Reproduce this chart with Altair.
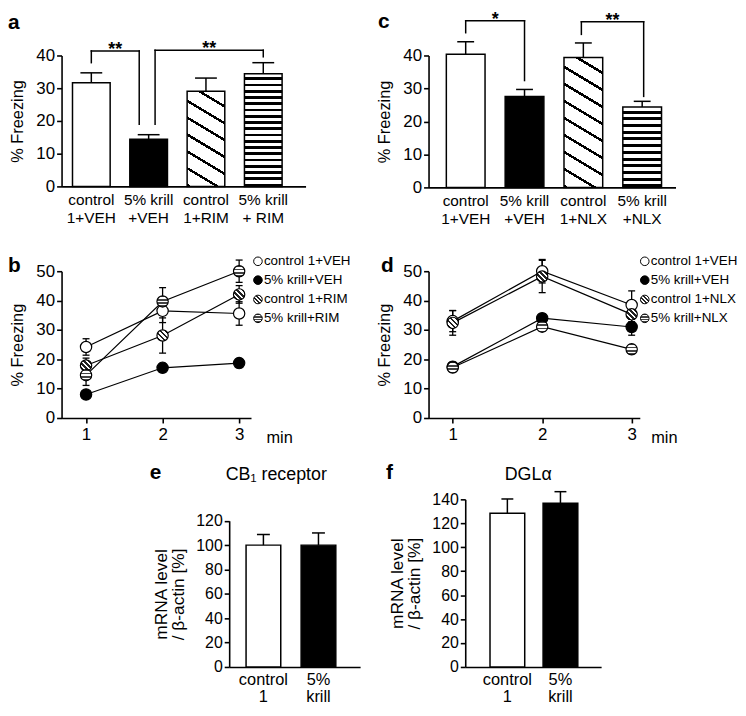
import altair as alt
import pandas as pd

FONT = "Liberation Sans"

# ---------------- data ----------------
# panel a
a_groups = ["control\n1+VEH", "5% krill\n+VEH", "control\n1+RIM", "5% krill\n+ RIM"]
a_mean = [31.7, 14.4, 29.1, 34.4]
a_sem = [3.0, 1.4, 4.0, 3.4]
a_sig_from = [0, 1]
a_sig_to = [1, 3]
a_sig_left = [37.8, 19.0]
a_sig_right = [19.0, 39.6]
a_sig_top = [41.4, 41.6]
a_sig_label = ["**", "**"]

# panel c
c_groups = ["control\n1+VEH", "5% krill\n+VEH", "control\n1+NLX", "5% krill\n+NLX"]
c_mean = [40.4, 27.6, 39.4, 24.4]
c_sem = [3.8, 2.1, 4.4, 1.7]
c_sig_from = [0, 2]
c_sig_to = [1, 3]
c_sig_left = [46.9, 46.4]
c_sig_right = [32.4, 27.6]
c_sig_top = [50.5, 50.2]
c_sig_label = ["*", "**"]

# panels b and d (time course)
minutes = [1, 2, 3]
b_names = ["control 1+VEH", "5% krill+VEH", "control 1+RIM", "5% krill+RIM"]
b_ctrl_veh = [24.2, 36.5, 35.6]
b_ctrl_veh_err = [2.8, 4.0, 4.0]
b_krill_veh = [8.0, 17.1, 18.7]
b_krill_veh_err = [1.2, 1.5, 1.5]
b_ctrl_rim = [17.9, 28.1, 42.1]
b_ctrl_rim_err = [2.5, 6.0, 3.0]
b_krill_rim = [14.6, 39.7, 50.0]
b_krill_rim_err = [3.5, 4.7, 3.8]

d_names = ["control 1+VEH", "5% krill+VEH", "control 1+NLX", "5% krill+NLX"]
d_ctrl_veh = [33.0, 50.0, 38.5]
d_ctrl_veh_err = [3.6, 4.0, 4.8]
d_krill_veh = [17.5, 34.0, 31.0]
d_krill_veh_err = [1.5, 1.5, 2.8]
d_ctrl_nlx = [32.4, 48.2, 35.3]
d_ctrl_nlx_err = [4.2, 5.5, 2.5]
d_krill_nlx = [17.2, 31.1, 23.4]
d_krill_nlx_err = [1.5, 1.5, 1.5]

# panels e and f
ef_groups = ["control\n1", "5%\nkrill"]
e_mean = [100.0, 100.0]
e_sem = [8.7, 10.0]
f_mean = [128.4, 136.7]
f_sem = [11.9, 9.7]


# ---------------- style helpers ----------------
def stripe_stops(n, dark_frac, dark, light):
    stops = []
    for k in range(n):
        a = k / n
        m = (k + 1 - dark_frac) / n
        b = (k + 1) / n
        stops += [
            {"offset": round(a, 4), "color": light},
            {"offset": round(m, 4), "color": light},
            {"offset": round(m, 4), "color": dark},
            {"offset": round(b, 4), "color": dark},
        ]
    return stops


def horizontal_stripes(h_px, spacing, dark_frac, dark="black", light="white"):
    n = max(1, int(round(h_px / spacing)))
    return {"gradient": "linear", "x1": 0, "y1": 0, "x2": 0, "y2": 1,
            "stops": stripe_stops(n, dark_frac, dark, light)}


def diagonal_stripes(w_px, h_px, slope, vspacing, dark_frac, dark="black", light="white"):
    dx = -slope * w_px / h_px
    k = (1 - dx) / (1 + dx * dx)
    n = max(1, int(round((h_px + slope * w_px) / vspacing)))
    return {"gradient": "linear", "x1": 1, "y1": 0,
            "x2": round(1 + dx * k, 4), "y2": round(k, 4),
            "stops": stripe_stops(n, dark_frac, dark, light)}


def band_gradient(colors, x1, y1, x2, y2):
    n = len(colors)
    stops = []
    for k, col in enumerate(colors):
        stops += [{"offset": round(k / n, 4), "color": col},
                  {"offset": round((k + 1) / n, 4), "color": col}]
    return {"gradient": "linear", "x1": x1, "y1": y1, "x2": x2, "y2": y2, "stops": stops}


def marker_fill(style):
    if style == "open":
        return "white"
    if style == "filled":
        return "black"
    if style == "diag":
        return band_gradient(["#fff", "#222", "#fff", "#222", "#fff", "#222", "#fff", "#222", "#fff"], 1, 0, 0, 1)
    return band_gradient(["#444", "#fff", "#444", "#fff", "#444", "#fff", "#444"], 0, 0, 0, 1)


def text_layer(txt, x, y, size, weight="normal", align="left", baseline="alphabetic"):
    return alt.Chart(pd.DataFrame({"t": [txt]})).mark_text(
        align=align, baseline=baseline, fontSize=size, fontWeight=weight, font=FONT, color="black"
    ).encode(text="t:N", x=alt.value(x), y=alt.value(y))


# ---------------- bar panels ----------------
def bar_panel(groups, means, sems, styles, width, height, ymax, yticks, pi, po, al, cap_px,
              sig, sig_offsets, letter, letter_pos, ytitle, yrange=None, tick_font=17,
              xlab_font=15.5, xlab_lh=18, title_font=16.5, title_lh=18, title_pad=10, xlab_pad=6,
              head=None, head_pos=None):
    n = len(groups)
    step = width / (n - pi + 2 * po)
    bw = step * (1 - pi)
    y_lo, y_hi = yrange if yrange else (height, 0)
    ppu = (y_lo - y_hi) / ymax
    df = pd.DataFrame({"idx": list(range(n)), "grp": groups, "mean": means, "sem": sems})
    xs = alt.Scale(domain=groups, paddingInner=pi, paddingOuter=po, align=al)
    xax = alt.Axis(title=None, labelExpr="split(datum.label, '\\n')", labelAngle=0, ticks=False,
                   tickSize=0, labelPadding=xlab_pad, labelFontSize=xlab_font, labelLineHeight=xlab_lh)
    if yrange:
        ys = alt.Scale(domain=[0, ymax], nice=False, range=list(yrange))
    else:
        ys = alt.Scale(domain=[0, ymax], nice=False)
    yax = alt.Axis(values=yticks, title=ytitle, titleFontSize=title_font, titleLineHeight=title_lh,
                   titlePadding=title_pad, labelFontSize=tick_font, labelPadding=2, tickSize=5)

    def X(f):
        return alt.X(f, type="nominal", scale=xs, axis=xax)

    def Y(f):
        return alt.Y(f, type="quantitative", scale=ys, axis=yax)

    def fill_for(style, mean):
        h = mean * ppu
        if style[0] == "solid":
            return style[1]
        if style[0] == "diag":
            return diagonal_stripes(bw, h, 0.6, style[1], 0.17)
        return horizontal_stripes(h, style[1], 0.45)

    layers = []
    for i in range(n):
        layers.append(
            alt.Chart(df).transform_filter(alt.datum.idx == i)
            .mark_bar(fill=fill_for(styles[i], means[i]), stroke="black", strokeWidth=1.5, opacity=1)
            .encode(x=X("grp"), y=Y("mean"))
        )
    err = alt.Chart(df).transform_calculate(top="datum.mean + datum.sem")
    layers.append(err.mark_rule(color="black", strokeWidth=1.5).encode(x=X("grp"), y=Y("mean"), y2=alt.Y2("top")))
    layers.append(err.mark_tick(color="black", thickness=1.5, size=cap_px, opacity=1).encode(x=X("grp"), y=Y("top")))

    for k in range(len(sig["from"])):
        ol, orr = sig_offsets[k]
        i0, i1 = sig["from"][k], sig["to"][k]
        sd = pd.DataFrame([{"frm": groups[i0], "to": groups[i1], "yl": sig["left"][k],
                            "yr": sig["right"][k], "top": sig["top"][k], "lab": sig["label"][k]}])
        c = alt.Chart(sd)
        layers.append(c.mark_rule(color="black", strokeWidth=1.5, xOffset=ol, strokeCap="square")
                      .encode(x=X("frm"), y=Y("yl"), y2=alt.Y2("top")))
        layers.append(c.mark_rule(color="black", strokeWidth=1.5, xOffset=orr, strokeCap="square")
                      .encode(x=X("to"), y=Y("yr"), y2=alt.Y2("top")))
        layers.append(c.mark_rule(color="black", strokeWidth=1.5, xOffset=ol, x2Offset=orr, strokeCap="square")
                      .encode(x=X("frm"), x2=alt.X2("to"), y=Y("top")))
        mid = (step * (i1 - i0) + ol + orr) / 2
        layers.append(c.mark_text(xOffset=mid, dy=4, align="center", baseline="alphabetic", fontSize=18,
                                  fontWeight="bold", font=FONT, color="black")
                      .encode(x=X("frm"), y=Y("top"), text="lab:N"))

    layers.append(text_layer(letter, letter_pos[0], letter_pos[1], 21, weight="bold"))
    if head:
        layers.append(text_layer(head, head_pos[0], head_pos[1], 18, align="center", baseline="middle"))
    return alt.layer(*layers).properties(width=width, height=height)


# ---------------- line panels ----------------
def line_panel(names, means, errs, styles, xdom, width, height, sym_x, txt_x, leg_ys, min_x,
               letter, letter_pos, legend_font=13.5):
    rows = []
    for s in range(len(names)):
        for t, mv, ev in zip(minutes, means[s], errs[s]):
            rows.append({"s": s, "series": names[s], "minute": t, "mean": mv, "err": ev})
    df = pd.DataFrame(rows)
    xs = alt.Scale(domain=xdom, nice=False, zero=False)
    xax = alt.Axis(values=minutes, format="d", title="min", titleX=min_x, titleY=19.5, titleAlign="left",
                   titleBaseline="middle", titleFontSize=16.5, tickSize=5, labelPadding=4, labelFontSize=17)
    ys = alt.Scale(domain=[0, 50], nice=False)
    yax = alt.Axis(values=[0, 10, 20, 30, 40, 50], title="% Freezing", titleFontSize=16.5, titlePadding=10,
                   labelFontSize=17, labelPadding=2, tickSize=5)
    X = alt.X("minute:Q", scale=xs, axis=xax)

    def Y(f):
        return alt.Y(f, type="quantitative", scale=ys, axis=yax)

    errl, linel, ptl, legl = [], [], [], []
    for s in range(len(names)):
        base = (alt.Chart(df).transform_filter(alt.datum.s == s)
                .transform_calculate(lo="datum.mean - datum.err", hi="datum.mean + datum.err"))
        errl.append(base.mark_rule(color="black", strokeWidth=1.3).encode(x=X, y=Y("lo"), y2=alt.Y2("hi")))
        errl.append(base.mark_tick(orient="horizontal", color="black", thickness=1.3, size=7, opacity=1)
                    .encode(x=X, y=Y("hi")))
        errl.append(base.mark_tick(orient="horizontal", color="black", thickness=1.3, size=7, opacity=1)
                    .encode(x=X, y=Y("lo")))
        linel.append(base.mark_line(color="black", strokeWidth=1.2).encode(x=X, y=Y("mean")))
        ptl.append(base.mark_point(shape="circle", filled=True, fill=marker_fill(styles[s]), stroke="black",
                                   strokeWidth=1.2, size=130, opacity=1).encode(x=X, y=Y("mean")))
        ld = alt.Chart(pd.DataFrame({"label": [names[s]]}))
        legl.append(ld.mark_point(shape="circle", filled=True, fill=marker_fill(styles[s]), stroke="black",
                                  strokeWidth=1.0, size=75, opacity=1)
                    .encode(x=alt.value(sym_x), y=alt.value(leg_ys[s])))
        legl.append(ld.mark_text(align="left", baseline="middle", fontSize=legend_font, font=FONT, color="black")
                    .encode(text="label:N", x=alt.value(txt_x), y=alt.value(leg_ys[s])))
    layers = errl + linel + ptl + legl
    layers.append(text_layer(letter, letter_pos[0], letter_pos[1], 21, weight="bold"))
    return alt.layer(*layers).properties(width=width, height=height)


# ---------------- build panels ----------------
panel_a = bar_panel(
    a_groups, a_mean, a_sem,
    [("solid", "white"), ("solid", "black"), ("diag", 18), ("hstripe", 6.2)],
    246, 132, 40, [0, 10, 20, 30, 40], 0.343, 0.3, 0.318, 22,
    {"from": a_sig_from, "to": a_sig_to, "left": a_sig_left, "right": a_sig_right,
     "top": a_sig_top, "label": a_sig_label},
    [(0, -9.5), (6.5, 0)], "a", (-54, -27), "% Freezing")

panel_c = bar_panel(
    c_groups, c_mean, c_sem,
    [("solid", "white"), ("solid", "black"), ("diag", 18), ("hstripe", 7.0)],
    249, 133, 40, [0, 10, 20, 30, 40], 0.342, 0.27, 0.56, 17,
    {"from": c_sig_from, "to": c_sig_to, "left": c_sig_left, "right": c_sig_right,
     "top": c_sig_top, "label": c_sig_label},
    [(0, 0), (-2, 1.5)], "c", (-51, -28), "% Freezing")

styles = ["open", "filled", "diag", "hstripe"]
leg_ys = [-10, 9, 28.5, 47.5]
panel_b = line_panel(
    b_names, [b_ctrl_veh, b_krill_veh, b_ctrl_rim, b_krill_rim],
    [b_ctrl_veh_err, b_krill_veh_err, b_ctrl_rim_err, b_krill_rim_err],
    styles, [0.68, 3.155], 191, 148, 198, 204, leg_ys, 206, "b", (-54, 1))

panel_d = line_panel(
    d_names, [d_ctrl_veh, d_krill_veh, d_ctrl_nlx, d_krill_nlx],
    [d_ctrl_veh_err, d_krill_veh_err, d_ctrl_nlx_err, d_krill_nlx_err],
    styles, [0.73, 3.091], 213, 148, 218, 224, leg_ys, 224, "d", (-48, 1))

no_sig = {"from": [], "to": [], "left": [], "right": [], "top": [], "label": []}
panel_e = bar_panel(
    ef_groups, e_mean, e_sem, [("solid", "white"), ("solid", "black")],
    132, 169, 120, [0, 20, 40, 60, 80, 100, 120], 0.37, 0.374, 0.41, 13,
    no_sig, [], "e", (-80, -21), ["mRNA level", "/ β-actin [%]"], yrange=(169, 21.6),
    tick_font=16, xlab_font=16.5, xlab_lh=17, title_font=17.5, title_lh=18, title_pad=8, xlab_pad=5,
    head="CB₁ receptor", head_pos=(47.5, -25))

panel_f = bar_panel(
    ef_groups, f_mean, f_sem, [("solid", "white"), ("solid", "black")],
    137, 169, 140, [0, 20, 40, 60, 80, 100, 120, 140], 0.346, 0.453, 0.515, 12,
    no_sig, [], "f", (-80, -21), ["mRNA level", "/ β-actin [%]"],
    tick_font=16, xlab_font=16.5, xlab_lh=17, title_font=17.5, title_lh=18, title_pad=8, xlab_pad=5,
    head="DGLα", head_pos=(63.5, -25))

spacer = (alt.Chart(pd.DataFrame({"v": [0]})).mark_point(opacity=0)
          .encode(x=alt.value(0), y=alt.value(0)).properties(width=63, height=169))

row1 = alt.hconcat(panel_a, panel_c, spacing=124, bounds="flush")
row2 = alt.hconcat(panel_b, panel_d, spacing=179, bounds="flush")
row3 = alt.hconcat(spacer, panel_e, panel_f, spacing=106, bounds="flush")
lower = alt.vconcat(row2, row3, spacing=16, bounds="full")

chart = (
    alt.vconcat(row1, lower, spacing=27.5, bounds="full")
    .properties(padding=0, background="white")
    .configure_view(stroke=None)
    .configure_axis(domainColor="black", tickColor="black", labelColor="black", titleColor="black",
                    labelFont=FONT, titleFont=FONT, titleFontWeight="normal", grid=False,
                    domainWidth=1.6, tickWidth=1.6)
    .configure_text(font=FONT)
)

chart.save("out.html", embed_options={"renderer": "svg", "actions": False})
